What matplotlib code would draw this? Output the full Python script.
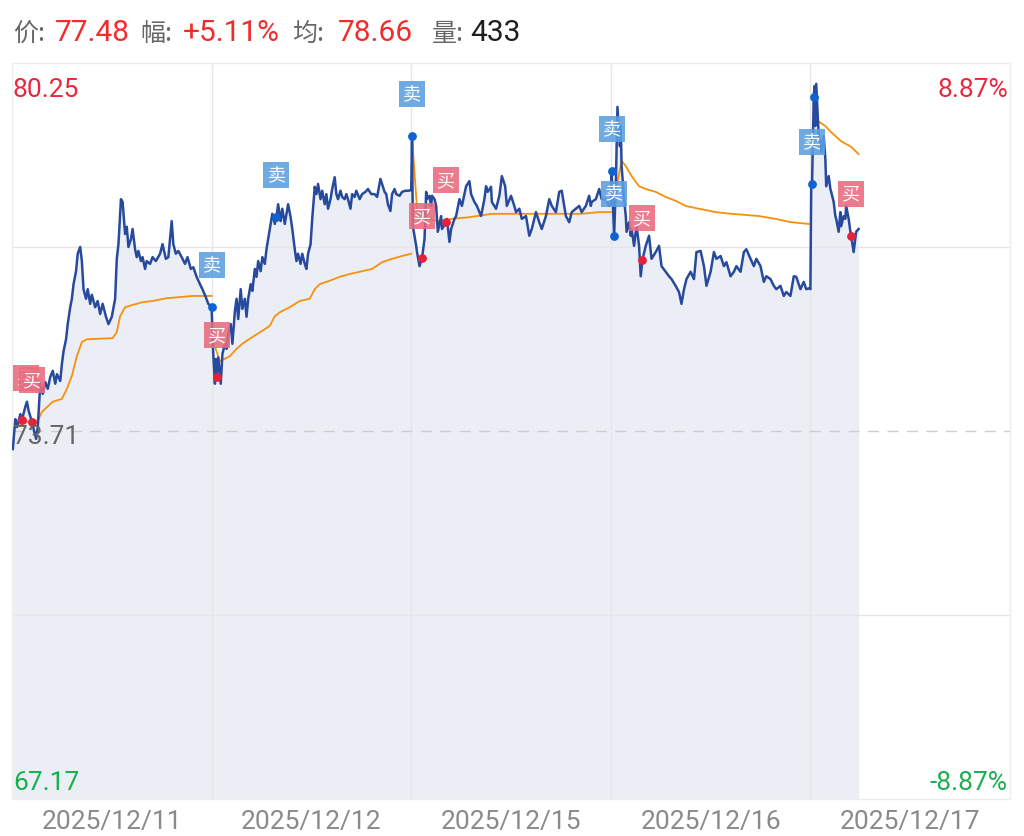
# Intraday price chart (5 sessions) with buy / sell marks and daily average line

import numpy as np
import matplotlib.pyplot as plt

plt.rcParams['font.family'] = ['Roboto', 'Noto Sans CJK SC', 'DejaVu Sans']

# ---- data (minute index: 240 per session) ----
dates = ["2025/12/11", "2025/12/12", "2025/12/15", "2025/12/16", "2025/12/17"]
base_price = 73.71
price_top = 80.25
price_bottom = 67.17

day1_min = [1, 4, 6, 10, 12, 16, 18, 20, 24, 26, 29, 31, 34, 37, 40, 43, 46, 49, 52, 54,
            58, 60, 62, 65, 67, 70, 72, 74, 77, 79, 82, 84, 86, 89, 91, 94, 96, 100, 103, 106,
            109, 113, 116, 120, 124, 126, 128, 131, 133, 136, 138, 140, 143, 145, 148, 150, 152, 155, 157, 160,
            162, 166, 169, 173, 178, 181, 185, 188, 192, 194, 197, 200, 204, 208, 211, 215, 218, 222, 226, 229,
            233, 236, 240]
day1_price = [73.39, 73.92, 73.78, 74.01, 73.91, 74.14, 74.23, 74.07, 73.87, 73.75, 73.57, 73.78, 74.55, 74.37, 74.58, 74.46, 74.67, 74.78, 74.55, 74.72,
              74.60, 74.90, 75.13, 75.34, 75.61, 75.91, 76.06, 76.32, 76.55, 76.86, 76.98, 76.73, 76.23, 76.06, 76.23, 75.97, 76.13, 75.91, 76.02, 75.79,
              75.97, 75.74, 75.61, 75.74, 76.06, 76.77, 77.03, 77.83, 77.78, 77.21, 77.34, 76.98, 77.12, 77.30, 76.94, 76.80, 76.91, 76.73, 76.80, 76.59,
              76.73, 76.68, 76.80, 76.73, 76.86, 77.03, 76.77, 76.80, 77.44, 77.03, 76.86, 76.91, 76.80, 76.68, 76.80, 76.59, 76.62, 76.45, 76.32, 76.23,
              76.09, 75.97, 75.91]

day2_min = [242, 244, 245, 246, 248, 251, 253, 256, 258, 260, 263, 265, 268, 270, 272, 275, 277, 280, 282, 284,
            287, 289, 292, 294, 296, 299, 301, 304, 306, 308, 311, 313, 316, 318, 320, 323, 325, 328, 330, 332,
            335, 337, 340, 342, 344, 347, 349, 352, 354, 356, 359, 361, 364, 366, 368, 371, 373, 376, 378, 380,
            383, 385, 388, 390, 392, 395, 397, 400, 402, 404, 407, 409, 412, 414, 418, 421, 425, 428, 432, 436,
            439, 443, 445, 448, 450, 452, 455, 457, 460, 462, 466, 469, 473, 476, 480]
day2_price = [75.08, 74.55, 74.99, 74.67, 75.02, 74.55, 75.08, 75.26, 75.17, 75.43, 75.61, 75.26, 75.84, 76.06, 75.70, 76.23, 75.88, 76.06, 75.74, 76.06,
              76.32, 76.20, 76.59, 76.45, 76.73, 76.55, 76.80, 76.68, 76.94, 77.12, 77.39, 77.57, 77.39, 77.51, 77.74, 77.44, 77.66, 77.39, 77.57, 77.74,
              77.51, 77.30, 76.94, 76.73, 76.86, 76.68, 76.86, 76.68, 76.59, 76.86, 77.03, 77.48, 78.05, 77.92, 78.10, 77.83, 77.98, 77.74, 77.92, 77.66,
              77.83, 78.01, 78.22, 77.92, 77.83, 77.98, 77.87, 77.83, 77.92, 77.83, 77.66, 77.92, 77.87, 77.98, 77.83, 77.92, 77.96, 78.01, 77.92, 77.92,
              77.87, 78.19, 78.10, 77.96, 77.92, 77.74, 77.62, 77.92, 78.01, 77.92, 77.89, 77.96, 77.98, 77.98, 77.99]

day3_min = [481, 482, 486, 487, 490, 493, 496, 498, 499, 502, 504, 505, 508, 510, 512, 516, 517, 522, 523, 526,
            528, 532, 534, 538, 541, 546, 550, 552, 556, 559, 562, 564, 568, 570, 572, 576, 577, 582, 586, 589,
            593, 595, 600, 604, 606, 610, 613, 618, 622, 625, 630, 634, 637, 642, 646, 649, 654, 658, 661, 666,
            670, 673, 678, 682, 685, 690, 694, 696, 697, 702, 706, 709, 714, 718, 720]
day3_price = [78.95, 77.35, 77.00, 76.89, 76.64, 76.78, 77.12, 77.96, 77.83, 77.89, 77.71, 77.89, 77.83, 77.71, 77.25, 77.53, 77.30, 77.42, 77.48, 77.07,
              77.30, 77.48, 77.53, 77.83, 77.71, 78.06, 78.15, 77.92, 77.78, 77.71, 77.60, 77.53, 77.83, 78.06, 77.96, 78.05, 77.78, 77.66, 77.89, 78.24,
              78.06, 77.71, 77.89, 77.71, 77.60, 77.66, 77.48, 77.53, 77.18, 77.30, 77.60, 77.42, 77.30, 77.53, 77.83, 77.71, 77.60, 77.96, 77.98, 77.53,
              77.42, 77.60, 77.66, 77.71, 77.60, 77.71, 77.89, 77.71, 77.78, 77.83, 78.01, 77.83, 77.83, 77.71, 77.74]

day4_min = [721, 724, 726, 728, 731, 732, 733, 736, 738, 739, 742, 744, 745, 748, 750, 751, 754, 756, 758, 762,
            766, 769, 774, 778, 781, 786, 790, 793, 798, 802, 805, 808, 811, 816, 820, 823, 828, 832, 835, 840,
            844, 847, 852, 856, 859, 864, 868, 871, 876, 880, 883, 888, 892, 895, 900, 904, 907, 912, 916, 919,
            924, 928, 931, 936, 940, 943, 948, 952, 955, 959, 960]
day4_price = [78.33, 77.18, 78.06, 79.47, 78.77, 79.13, 78.42, 77.83, 77.53, 77.25, 77.42, 77.18, 77.30, 77.00, 77.25, 77.35, 77.00, 76.46, 76.75, 77.00,
              77.18, 76.77, 76.89, 77.00, 76.64, 76.54, 76.46, 76.41, 76.29, 76.18, 75.97, 76.23, 76.41, 76.54, 76.41, 76.89, 76.91, 76.64, 76.29, 76.54,
              76.89, 76.77, 76.82, 76.64, 76.71, 76.46, 76.54, 76.64, 76.54, 76.89, 76.94, 76.77, 76.64, 76.77, 76.64, 76.36, 76.46, 76.41, 76.29, 76.23,
              76.29, 76.11, 76.18, 76.11, 76.46, 76.45, 76.23, 76.36, 76.23, 76.25, 76.23]

day5_min = [961, 962, 964, 965, 966, 967, 970, 972, 973, 976, 978, 979, 982, 984, 985, 988, 990, 991, 994, 996,
            997, 1000, 1002, 1003, 1006, 1008, 1009, 1012, 1014, 1015, 1018]
day5_price = [78.06, 78.10, 79.65, 79.84, 79.13, 79.88, 78.95, 78.85, 78.67, 78.95, 78.54, 78.06, 78.24, 78.01, 77.96, 77.78, 77.53, 77.48, 77.25, 77.60,
              77.35, 77.53, 77.48, 77.71, 77.48, 77.26, 77.18, 76.89, 77.12, 77.25, 77.30]

# daily average price (均价), resets every session
avg1_min = [5, 18, 31, 36, 49, 60, 66, 72, 78, 84, 90, 121, 126, 130, 136, 145, 157, 169, 186, 202, 217, 240]
avg1_price = [73.78, 73.87, 73.89, 74.05, 74.23, 74.28, 74.46, 74.69, 75.04, 75.29, 75.34, 75.36, 75.47, 75.75, 75.91, 75.95, 76.00, 76.02, 76.07, 76.09, 76.11, 76.11]
avg2_min = [245, 250, 262, 270, 277, 289, 301, 310, 316, 322, 334, 346, 358, 364, 370, 382, 394, 406, 418, 433, 445, 457, 469, 480]
avg2_price = [75.17, 74.95, 75.04, 75.17, 75.26, 75.38, 75.49, 75.58, 75.75, 75.82, 75.91, 76.02, 76.06, 76.23, 76.32, 76.38, 76.45, 76.50, 76.54, 76.59, 76.71, 76.77, 76.82, 76.86]
avg3_min = [481, 487, 490, 498, 514, 529, 550, 577, 606, 646, 685, 706, 720]
avg3_price = [78.93, 77.66, 77.48, 77.48, 77.44, 77.48, 77.51, 77.57, 77.57, 77.57, 77.57, 77.60, 77.60]
avg4_min = [722, 727, 733, 738, 745, 754, 762, 774, 786, 798, 810, 826, 846, 865, 898, 918, 937, 958]
avg4_price = [78.10, 78.06, 78.51, 78.42, 78.24, 78.06, 78.01, 77.96, 77.87, 77.80, 77.71, 77.66, 77.60, 77.57, 77.53, 77.48, 77.42, 77.39]
avg5_min = [966, 978, 985, 997, 1009, 1018]
avg5_price = [79.25, 79.13, 79.02, 78.86, 78.76, 78.63]

buy_min = [12, 24, 246, 493, 522, 758, 1009]
buy_price = [73.91, 73.87, 74.67, 76.78, 77.42, 76.75, 77.18]
sell_min = [240, 318, 481, 721, 724, 962, 964]
sell_price = [75.91, 77.51, 78.95, 78.33, 77.18, 78.10, 79.65]

# header values
head_price = "77.48"
head_change = "+5.11%"
head_avg = "78.66"
head_vol = "433"

# ---- figure ----
W, H = 1024, 837
fig = plt.figure(figsize=(W / 100, H / 100), dpi=100)


def fx(x):
    return x / W


def fy(y):
    return 1 - y / H


left, right, top, bottom = 12, 1010, 64, 800
ax = fig.add_axes([fx(left), fy(bottom), (right - left) / W, (bottom - top) / H])
ax.set_xlim(0, 1200)
ax.set_ylim(price_bottom, price_top)
ax.set_xticks([])
ax.set_yticks([])
for s in ax.spines.values():
    s.set_color("#ededed")
    s.set_linewidth(1)

# grid (drawn above the fill, as in the app)
for d in range(1, 5):
    ax.axvline(d * 240, color="#e6e6e9", lw=1, zorder=1.5)
half = (price_top - base_price) / 2
for lv in (base_price + half, base_price - half):
    ax.axhline(lv, color="#e6e6e9", lw=1, zorder=1.5)
ax.axhline(base_price, color="#cdcdd0", lw=1, dashes=(8, 6), zorder=1.6)

# price line
t = np.array(day1_min + day2_min + day3_min + day4_min + day5_min, dtype=float)
p = np.array(day1_price + day2_price + day3_price + day4_price + day5_price)
ax.fill_between(t, p, price_bottom, color="#eceef6", lw=0, zorder=1)
ax.plot(t, p, color="#284a9c", lw=1.8, zorder=3, solid_joinstyle="round")

# average line
avg_sets = [(avg1_min, avg1_price), (avg2_min, avg2_price), (avg3_min, avg3_price),
            (avg4_min, avg4_price), (avg5_min, avg5_price)]
for am, ap in avg_sets:
    ax.plot(am, ap, color="#f7900c", lw=1.3, zorder=2)

# markers + labels
cjk = ["Noto Sans CJK SC", "DejaVu Sans"]
ax.scatter(buy_min, buy_price, s=40, color="#e8213b", zorder=5, lw=0)
ax.scatter(sell_min, sell_price, s=40, color="#0f63d0", zorder=5, lw=0)

px_per_pt = fig.dpi / 72
label_rise = 42   # label centre sits this many pixels above its dot
half_box = 13


def trade_label(m, v, txt, fc):
    dx, dy = ax.transData.transform((m, v))
    dy_top = fig.bbox.height - dy          # pixels from the top of the picture
    if dy_top - label_rise - half_box < top:
        return                              # the app drops labels that leave the plot
    cx = max(dx, left + half_box + 1)       # keep the box inside on the left edge
    ax.annotate(txt, (m, v), xytext=((cx - dx) / px_per_pt, label_rise / px_per_pt),
                textcoords="offset points", ha="center", va="center",
                fontsize=13, color="white", family=cjk,
                bbox=dict(boxstyle="square,pad=0.22", fc=fc, ec="none", alpha=0.88),
                zorder=6)


for m, v in zip(buy_min, buy_price):
    trade_label(m, v, "买", "#e96a7e")
for m, v in zip(sell_min, sell_price):
    trade_label(m, v, "卖", "#5c9fe0")

# axis value texts inside the plot
red, green, gray = "#e8283c", "#18b04e", "#666666"
pct = (price_top - base_price) / base_price * 100
fig.text(fx(13), fy(97), f"{price_top:.2f}", color=red, fontsize=19, va="baseline")
fig.text(fx(13), fy(444), f"{base_price:.2f}", color=gray, fontsize=19, va="baseline", zorder=1)
fig.text(fx(13), fy(790), f"{price_bottom:.2f}", color=green, fontsize=19, va="baseline")
fig.text(fx(1008), fy(97), f"{pct:.2f}%", color=red, fontsize=19, va="baseline", ha="right")
fig.text(fx(1008), fy(790), f"-{pct:.2f}%", color=green, fontsize=19, va="baseline", ha="right")

# date labels
for i, d in enumerate(dates):
    xc = left + (i + 0.5) * (right - left) / 5
    fig.text(fx(xc), fy(829), d, color="#8a8a8a", fontsize=19, ha="center", va="baseline")

# header
hdr = [(13, "价:", gray, cjk, 18), (55, head_price, "#f02c2c", None, 21.5),
       (140, "幅:", gray, cjk, 18), (183, head_change, "#f02c2c", None, 21.5),
       (292, "均:", gray, cjk, 18), (338, head_avg, "#f02c2c", None, 21.5),
       (432, "量:", gray, cjk, 18), (470, head_vol, "#1e1e1e", None, 21.5)]
for x, s, c, fam, fs in hdr:
    kw = {"family": fam} if fam else {}
    fig.text(fx(x), fy(41), s, color=c, fontsize=fs, va="baseline", **kw)

fig.savefig("out.png", dpi=100)
